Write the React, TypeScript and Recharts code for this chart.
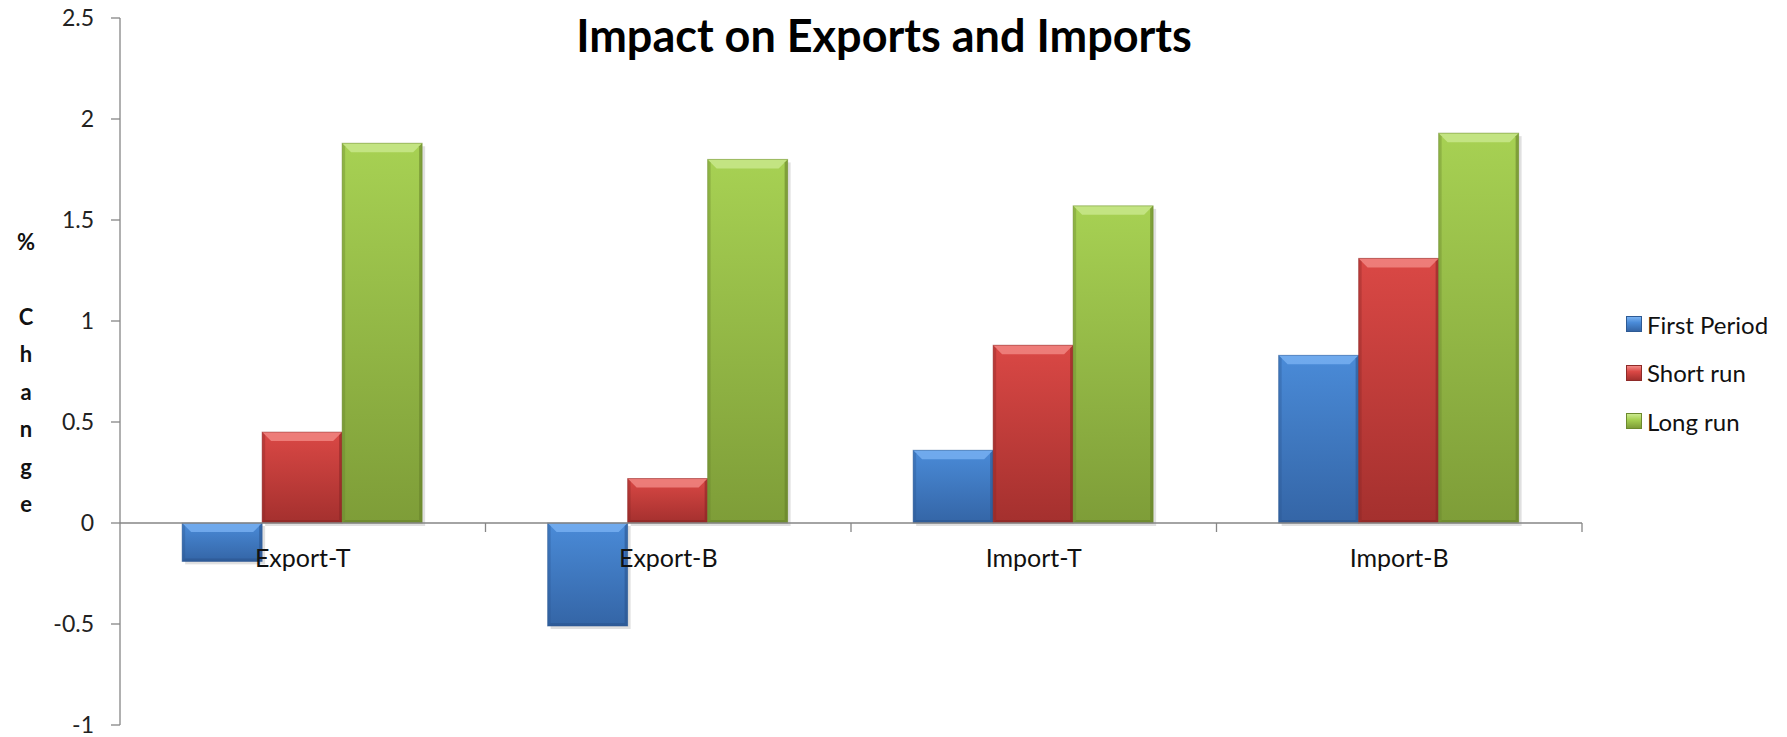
import React from 'react';
import { BarChart, Bar, XAxis, YAxis, ReferenceLine, ReferenceDot, Legend } from 'recharts';

const categories = ['Export-T', 'Export-B', 'Import-T', 'Import-B'];
const firstPeriod = [-0.19, -0.51, 0.36, 0.83];
const shortRun = [0.45, 0.22, 0.88, 1.31];
const longRun = [1.88, 1.8, 1.57, 1.93];
const yTicks = [-1, -0.5, 0, 0.5, 1, 1.5, 2, 2.5];
const seriesNames = ['First Period', 'Short run', 'Long run'];
const seriesKeys = ['first', 'short', 'long'];
const axisTitleLines = ['%', '', 'C', 'h', 'a', 'n', 'g', 'e'];
const chartTitle = 'Impact on Exports and Imports';

const data = categories.map((c, i) => ({
  category: c,
  first: firstPeriod[i],
  short: shortRun[i],
  long: longRun[i],
}));

const W = 1787;
const H = 737;
const MARGIN = { top: 18, right: 205, bottom: 12, left: 0 };
const Y_AXIS_W = 120;
const PLOT_W = W - MARGIN.left - MARGIN.right - Y_AXIS_W;
const BAND = PLOT_W / categories.length;
const FONT = 'Lato, "Open Sans", sans-serif';
const AXIS_COLOR = '#868686';

const palettes: Record<string, { top: string; bottom: string; bevel: string; bevelDark: string; edge: string }> = {
  first: { top: '#4a8bd8', bottom: '#3465a6', bevel: '#79b2f2', bevelDark: '#2b5590', edge: '#2d5a94' },
  short: { top: '#da4845', bottom: '#a4302e', bevel: '#f28a86', bevelDark: '#882624', edge: '#8e2a28' },
  long: { top: '#a7d153', bottom: '#7e9d38', bevel: '#cbe98e', bevelDark: '#65802a', edge: '#6c8a2e' },
};

const makeShape = (key: string) => (props: any) => {
  let { x, y, width, height } = props;
  if (width == null || height == null) return null;
  if (height < 0) {
    y = y + height;
    height = -height;
  }
  if (height <= 0) return null;
  const p = palettes[key];
  const b = Math.min(9, height / 2, width / 2);
  const s = Math.min(3, height / 2);
  const gid = `grad-${key}`;
  return (
    <g>
      <defs>
        <linearGradient id={gid} x1="0" y1="0" x2="0" y2="1">
          <stop offset="0%" stopColor={p.top} />
          <stop offset="100%" stopColor={p.bottom} />
        </linearGradient>
      </defs>
      <rect x={x + 3} y={y + 3} width={width} height={height} fill="rgba(0,0,0,0.12)" />
      <rect x={x} y={y} width={width} height={height} fill={`url(#${gid})`} />
      <polygon
        points={`${x},${y} ${x + width},${y} ${x + width - b},${y + b} ${x + b},${y + b}`}
        fill={p.bevel}
        opacity={0.8}
      />
      <polygon
        points={`${x},${y} ${x + s},${y + s} ${x + s},${y + height - s} ${x},${y + height}`}
        fill={p.bevelDark}
        opacity={0.35}
      />
      <polygon
        points={`${x + width},${y} ${x + width - s},${y + s} ${x + width - s},${y + height - s} ${x + width},${y + height}`}
        fill={p.bevelDark}
        opacity={0.6}
      />
      <polygon
        points={`${x},${y + height} ${x + s},${y + height - s} ${x + width - s},${y + height - s} ${x + width},${y + height}`}
        fill={p.bevelDark}
        opacity={0.6}
      />
      <rect x={x} y={y} width={width} height={height} fill="none" stroke={p.edge} strokeOpacity={0.5} strokeWidth={1} />
    </g>
  );
};

const CategoryMark = (props: any) => {
  const { cx, cy, label } = props;
  if (cx == null || cy == null) return null;
  const tx = cx + BAND / 2;
  return (
    <g>
      <line x1={tx} y1={cy} x2={tx} y2={cy + 9} stroke={AXIS_COLOR} strokeWidth={1.3} />
      <text
        x={cx}
        y={cy + 34}
        textAnchor="middle"
        dominantBaseline="central"
        fontFamily={FONT}
        fontSize={25}
        fill="#111"
      >
        {label}
      </text>
    </g>
  );
};

const AxisTitle = (props: any) => {
  const vb = props.viewBox || {};
  const cx = (vb.x ?? 0) + 26;
  const cy = (vb.y ?? 0) + (vb.height ?? 0) / 2 + 1;
  const lh = 37.5;
  const n = axisTitleLines.length;
  return (
    <text fontFamily={FONT} fontSize={22} fontWeight="bold" fill="#111" textAnchor="middle">
      {axisTitleLines.map((t, i) => (
        <tspan key={i} x={cx} y={cy + (i - (n - 1) / 2) * lh} dominantBaseline="central">
          {t}
        </tspan>
      ))}
    </text>
  );
};

const LegendContent = () => (
  <div style={{ fontFamily: FONT, fontSize: 24, color: '#111' }}>
    {seriesKeys.map((k, i) => {
      const p = palettes[k];
      return (
        <div key={k} style={{ display: 'flex', alignItems: 'center', height: 48.5, whiteSpace: 'nowrap' }}>
          <span
            style={{
              display: 'inline-block',
              width: 16,
              height: 16,
              marginRight: 5,
              flex: 'none',
              background: `linear-gradient(${p.bevel}, ${p.top} 40%, ${p.bottom})`,
              border: `1px solid ${p.edge}`,
              boxSizing: 'border-box',
            }}
          />
          <span>{seriesNames[i]}</span>
        </div>
      );
    })}
  </div>
);

export default function App() {
  return (
    <div style={{ position: 'absolute', left: 0, top: 0, width: W, height: H, background: '#fff' }}>
      <div
        style={{
          position: 'absolute',
          left: 0,
          top: 13,
          width: 1768,
          textAlign: 'center',
          fontFamily: FONT,
          fontWeight: 'bold',
          fontSize: 45,
          lineHeight: '45px',
          color: '#000',
          zIndex: 2,
        }}
      >
        {chartTitle}
      </div>
      <BarChart
        width={W}
        height={H}
        data={data}
        margin={MARGIN}
        barCategoryGap="17%"
        barGap={0}
      >
        <XAxis dataKey="category" hide />
        <YAxis
          width={Y_AXIS_W}
          domain={[-1, 2.5]}
          ticks={yTicks}
          interval={0}
          allowDataOverflow
          axisLine={{ stroke: AXIS_COLOR, strokeWidth: 1.3 }}
          tickLine={{ stroke: AXIS_COLOR, strokeWidth: 1.3 }}
          tickSize={9}
          tickMargin={17}
          tick={{ fontFamily: FONT, fontSize: 23, fill: '#222' }}
          label={<AxisTitle />}
        />
        <ReferenceLine y={0} stroke={AXIS_COLOR} strokeWidth={1.3} />
        {seriesKeys.map((k, i) => (
          <Bar
            key={k}
            dataKey={k}
            name={seriesNames[i]}
            fill={palettes[k].top}
            shape={makeShape(k)}
            isAnimationActive={false}
          />
        ))}
        {categories.map((c) => (
          <ReferenceDot
            key={c}
            x={c}
            y={0}
            r={0}
            ifOverflow="visible"
            shape={(p: any) => <CategoryMark {...p} label={c} />}
          />
        ))}
        <Legend
          layout="horizontal"
          verticalAlign="middle"
          align="center"
          content={<LegendContent />}
          wrapperStyle={{ left: 1626, top: 300, width: 160, height: 150 }}
        />
      </BarChart>
    </div>
  );
}
